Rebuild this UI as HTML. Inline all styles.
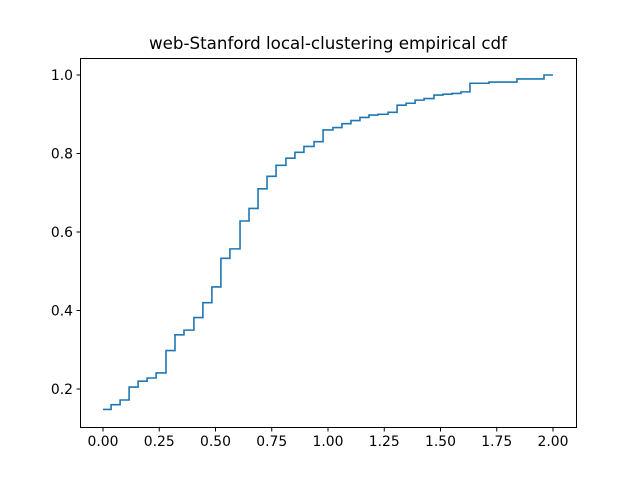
<!DOCTYPE html>
<html><head><meta charset="utf-8"><style>
body{margin:0;background:#fff}
svg{display:block;font-family:"DejaVu Sans","Liberation Sans",sans-serif}
</style></head><body>
<svg id="chart" width="640" height="480">
<rect width="640" height="480" fill="#fff"/>
<text x="328" y="49" text-anchor="middle" font-size="16.7">web-Stanford local-clustering empirical cdf</text>
<g id="ticks"></g>
<path id="line" fill="none" stroke="#1f77b4" stroke-width="1.6"/>
<rect x="80.5" y="58.5" width="496" height="369" fill="none" stroke="#000" stroke-width="1"/>
</svg>
<script>
const stepX=[0,0.036,0.076,0.116,0.156,0.196,0.236,0.28,0.32,0.36,0.404,0.444,0.484,0.524,0.564,0.609,0.649,0.689,0.729,0.769,0.813,0.853,0.893,0.938,0.978,1.022,1.062,1.102,1.142,1.182,1.222,1.267,1.307,1.347,1.387,1.427,1.471,1.511,1.551,1.591,1.631,1.716,1.84,1.96];
const stepY=[0.148,0.16,0.172,0.205,0.22,0.228,0.241,0.298,0.338,0.35,0.382,0.42,0.46,0.533,0.557,0.628,0.66,0.71,0.742,0.77,0.788,0.803,0.818,0.83,0.86,0.866,0.876,0.884,0.892,0.898,0.9,0.905,0.923,0.928,0.936,0.94,0.949,0.951,0.953,0.957,0.979,0.982,0.99,1.0];
const xEnd=2.0;
const xTicks=[0,0.25,0.5,0.75,1.0,1.25,1.5,1.75,2.0];
const xTickLabels=["0.00","0.25","0.50","0.75","1.00","1.25","1.50","1.75","2.00"];
const yTicks=[0.2,0.4,0.6,0.8,1.0];
const yTickLabels=["0.2","0.4","0.6","0.8","1.0"];
const X=v=>103+v*225;
const Y=v=>389-(v-0.2)*392.5;
const NS="http://www.w3.org/2000/svg";
let d="M"+X(stepX[0])+","+Y(stepY[0]);
for(let i=1;i<stepX.length;i++){d+=" H"+X(stepX[i])+" V"+Y(stepY[i]);}
d+=" H"+X(xEnd);
document.getElementById('line').setAttribute('d',d);
const g=document.getElementById('ticks');
xTicks.forEach((t,i)=>{
 const l=document.createElementNS(NS,'line');
 l.setAttribute('x1',X(t));l.setAttribute('x2',X(t));l.setAttribute('y1',427.5);l.setAttribute('y2',431.5);l.setAttribute('stroke','#000');
 
 
 g.appendChild(l);
 const tx=document.createElementNS(NS,'text');
 tx.setAttribute('x',X(t));tx.setAttribute('y',446);tx.setAttribute('text-anchor','middle');tx.setAttribute('font-size','13.9');
 tx.textContent=xTickLabels[i];
 
 
 g.appendChild(tx);
});
yTicks.forEach((t,i)=>{
 const l=document.createElementNS(NS,'line');
 l.setAttribute('x1',76.5);l.setAttribute('x2',80.5);l.setAttribute('y1',Y(t));l.setAttribute('y2',Y(t));l.setAttribute('stroke','#000');
 
 
 g.appendChild(l);
 const tx=document.createElementNS(NS,'text');
 tx.setAttribute('x',73);tx.setAttribute('y',Y(t)+5);tx.setAttribute('text-anchor','end');tx.setAttribute('font-size','13.9');
 tx.textContent=yTickLabels[i];
 
 
 g.appendChild(tx);
});
</script>
</body></html>
